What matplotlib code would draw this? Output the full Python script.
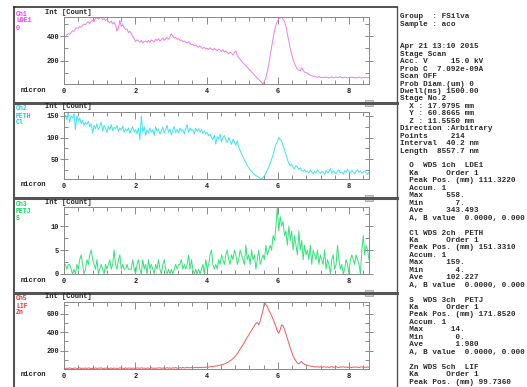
import matplotlib
matplotlib.use("Agg")
import matplotlib.pyplot as plt
from matplotlib.lines import Line2D
from matplotlib.patches import Rectangle
from matplotlib.ticker import MultipleLocator, FixedLocator
import numpy as np

plt.rcParams['font.family'] = ['Liberation Mono', 'DejaVu Sans Mono']

# scan setup (from the instrument header)
points = 214
length_um = 8.5577

# channel info
ch_names = ["Ch1", "Ch2", "Ch3", "Ch5"]
crystals = ["LDE1", "PETH", "PETJ", "LIF"]
elements = ["O", "Cl", "S", "Zn"]
wds_ch = ["1ch", "2ch", "3ch", "5ch"]
peak_pos = ["111.3220", "151.3310", "171.8520", "99.7360"]
max_txt = ["558.", "159.", "14."]
min_txt = ["7.", "4.", "0."]
ave_txt = ["343.493", "102.227", "1.980"]

# line scan counts
o_counts = [400, 395, 410, 420, 415, 430, 445, 440, 460, 470,
            465, 480, 475, 490, 500, 495, 510, 520, 505, 525,
            530, 520, 545, 555, 540, 548, 558, 535, 545, 530,
            540, 520, 510, 525, 500, 515, 495, 440, 470, 530,
            480, 495, 470, 455, 460, 430, 440, 420, 400, 380,
            355, 370, 360, 350, 365, 345, 355, 360, 350, 365,
            350, 370, 360, 355, 375, 365, 380, 360, 370, 385,
            365, 380, 390, 375, 395, 420, 400, 385, 390, 375,
            380, 365, 370, 355, 360, 350, 345, 355, 340, 330,
            335, 320, 330, 315, 310, 320, 305, 300, 310, 295,
            300, 290, 305, 295, 285, 300, 290, 280, 295, 285,
            275, 290, 270, 280, 265, 255, 270, 260, 245, 265,
            280, 240, 225, 210, 195, 180, 170, 155, 145, 130,
            120, 105, 95, 80, 70, 55, 45, 30, 20, 7,
            30, 60, 110, 170, 240, 310, 380, 440, 490, 520,
            545, 550, 558, 540, 520, 480, 420, 360, 300, 250,
            210, 175, 150, 130, 120, 115, 140, 120, 105, 100,
            95, 85, 80, 75, 70, 72, 65, 62, 68, 60,
            62, 58, 65, 60, 63, 57, 62, 66, 58, 61,
            64, 59, 62, 66, 60, 58, 63, 61, 57, 62,
            60, 65, 58, 62, 56, 60, 64, 59, 55, 62,
            58, 63, 57, 60]

cl_counts = [148, 152, 140, 159, 135, 150, 145, 155, 118, 150,
             138, 145, 132, 140, 128, 135, 130, 138, 125, 132,
             110, 128, 120, 132, 118, 125, 135, 115, 128, 122,
             112, 126, 118, 130, 116, 124, 120, 128, 114, 122,
             118, 126, 112, 120, 115, 122, 110, 118, 125, 112,
             118, 108, 122, 95, 150, 112, 125, 105, 118, 110,
             122, 112, 118, 105, 125, 114, 120, 108, 116, 124,
             110, 118, 128, 112, 120, 106, 118, 125, 112, 119,
             110, 122, 115, 118, 108, 120, 130, 112, 122, 116,
             118, 108, 122, 114, 120, 112, 118, 110, 115, 108,
             112, 104, 108, 100, 95, 105, 85, 102, 96, 108,
             90, 100, 105, 95, 88, 100, 92, 84, 96, 90,
             82, 92, 78, 70, 62, 55, 48, 42, 35, 30,
             25, 22, 18, 15, 12, 10, 8, 6, 4, 8,
             12, 18, 25, 32, 40, 50, 60, 72, 85, 90,
             100, 95, 92, 80, 72, 60, 50, 40, 35, 38,
             30, 28, 35, 32, 26, 30, 24, 22, 26, 20,
             22, 18, 24, 20, 16, 22, 18, 25, 20, 17,
             22, 19, 15, 24, 18, 21, 28, 17, 23, 19,
             16, 22, 25, 18, 20, 15, 23, 19, 26, 21,
             18, 24, 20, 16, 22, 25, 19, 23, 17, 20,
             22, 18, 15, 20]

s_counts = [2, 2, 1, 2, 2, 1, 0, 1, 0, 2,
            1, 3, 4, 2, 0, 1, 3, 2, 4, 5,
            3, 2, 1, 3, 0, 1, 2, 1, 0, 2,
            1, 2, 3, 1, 2, 5, 2, 1, 3, 4,
            1, 2, 1, 1, 2, 1, 1, 1, 3, 1,
            0, 2, 3, 1, 0, 3, 1, 2, 0, 3,
            1, 2, 1, 0, 2, 1, 3, 1, 0, 2,
            3, 1, 0, 1, 0, 1, 0, 1, 2, 1,
            2, 2, 3, 1, 2, 1, 2, 4, 1, 3,
            1, 0, 1, 0, 1, 0, 1, 2, 0, 3,
            1, 2, 4, 5, 2, 1, 2, 1, 3, 2,
            4, 3, 2, 4, 5, 3, 2, 4, 3, 5,
            4, 2, 3, 5, 4, 3, 2, 6, 3, 4,
            2, 5, 3, 4, 1, 3, 5, 2, 3, 4,
            3, 6, 4, 5, 6, 5, 8, 7, 10, 14,
            9, 12, 10, 11, 8, 9, 6, 10, 7, 9,
            5, 8, 6, 4, 9, 5, 7, 3, 6, 4,
            5, 3, 6, 2, 5, 4, 3, 5, 2, 4,
            3, 2, 5, 1, 3, 2, 0, 3, 4, 1,
            2, 6, 3, 1, 2, 0, 1, 3, 2, 0,
            3, 4, 3, 2, 4, 3, 2, 0, 5, 8,
            4, 6, 5, 3]

zn_counts = [8, 5, 10, 6, 12, 7, 4, 9, 11, 6,
             8, 13, 5, 9, 7, 10, 6, 12, 8, 5,
             9, 7, 11, 6, 10, 8, 13, 5, 9, 7,
             12, 6, 8, 10, 5, 11, 7, 9, 6, 13,
             8, 10, 5, 12, 7, 9, 11, 6, 10, 8,
             6, 12, 9, 7, 14, 8, 10, 6, 11, 9,
             7, 13, 8, 10, 6, 12, 9, 14, 7, 11,
             10, 8, 15, 9, 12, 7, 13, 10, 16, 9,
             12, 14, 10, 17, 11, 13, 18, 12, 15, 14,
             16, 13, 19, 15, 14, 18, 16, 20, 17, 19,
             22, 20, 25, 28, 24, 30, 35, 32, 38, 42,
             45, 50, 55, 62, 70, 78, 88, 100, 112, 128,
             145, 165, 190, 215, 240, 265, 290, 320, 345, 370,
             395, 420, 445, 470, 495, 505, 480, 520, 580, 640,
             728, 700, 680, 640, 610, 580, 540, 500, 460, 410,
             390, 430, 480, 470, 430, 380, 330, 280, 230, 185,
             140, 110, 85, 65, 55, 75, 80, 60, 50, 45,
             40, 35, 32, 28, 30, 25, 22, 26, 20, 24,
             18, 22, 25, 19, 23, 17, 21, 26, 18, 22,
             24, 19, 16, 23, 20, 25, 18, 22, 17, 21,
             20, 15, 22, 18, 24, 19, 16, 21, 23, 18,
             20, 17, 22, 19]

series = [o_counts, cl_counts, s_counts, zn_counts]
ylims = [(7, 558), (4, 159), (0, 14), (0, 728)]
yticks = [[200, 400], [50, 100, 150], [0, 5, 10], [200, 400, 600]]
yminor = [100, 25, 2.5, 100]
line_colors = ["#f07ce6", "#3fe3f0", "#33e27a", "#f05a5a"]
label_colors = ["#ff33ff", "#00d8e8", "#00dd55", "#ff3030"]

W, H = 527, 387
fig = plt.figure(figsize=(W / 100, H / 100), dpi=100)
fig.patch.set_facecolor("white")


def fx(p):
    return p / W


def fy(p):
    return 1 - p / H


# window frame
fig.add_artist(Line2D([fx(14), fx(14)], [fy(7), fy(387)], color="#555555", lw=1.5))
fig.add_artist(Line2D([fx(397), fx(397)], [fy(7), fy(387)], color="#555555", lw=1.0))
fig.add_artist(Line2D([fx(14), fx(397)], [fy(7), fy(7)], color="#333333", lw=1.2))
for sy in [103, 198, 293]:
    fig.add_artist(Line2D([fx(14), fx(397)], [fy(sy), fy(sy)], color="#555555", lw=2.2))
    fig.add_artist(Rectangle((fx(365), fy(sy + 3)), 8 / W, 6 / H, transform=fig.transFigure,
                             facecolor="#d0d0d0", edgecolor="#999999", lw=0.5))

for k in range(4):
    top = 17 + 95 * k
    vals = series[k]
    x = np.linspace(0, length_um, len(vals))
    ax = fig.add_axes([fx(64), fy(top + 67), 305 / W, 67 / H])
    ax.plot(x, vals, color=line_colors[k], lw=0.7)
    ax.set_xlim(0, length_um)
    ax.set_ylim(*ylims[k])
    ax.xaxis.set_major_locator(MultipleLocator(2))
    ax.xaxis.set_minor_locator(MultipleLocator(0.4))
    ax.yaxis.set_major_locator(FixedLocator(yticks[k]))
    ax.yaxis.set_minor_locator(MultipleLocator(yminor[k]))
    ax.tick_params(axis="x", which="both", direction="in", top=True, bottom=True,
                   color="#777777", labelcolor="#222222", labelsize=5, pad=3, width=0.6)
    ax.tick_params(axis="x", which="major", length=5)
    ax.tick_params(axis="x", which="minor", length=3)
    ax.tick_params(axis="y", which="both", left=True, right=True,
                   color="#777777", labelcolor="#222222", labelsize=5, pad=0.5, width=0.6)
    ax.tick_params(axis="y", which="major", direction="inout", length=6)
    ax.tick_params(axis="y", which="minor", direction="in", length=3)
    for sp in ax.spines.values():
        sp.set_color("#888888")
        sp.set_linewidth(0.7)
    for lab in ax.get_xticklabels() + ax.get_yticklabels():
        lab.set_fontweight("bold")

    fig.text(fx(45), fy(top - 5), "Int [Count]", fontsize=5, fontweight="bold",
             color="#222222", va="center", ha="left")
    fig.text(fx(34), fy(top + 73), "micron", fontsize=5, fontweight="bold",
             color="#222222", va="center", ha="center")
    for j, s in enumerate([ch_names[k], crystals[k], elements[k]]):
        fig.text(fx(16), fy(top - 3 + 7 * j), s, fontsize=4.7, fontweight="bold",
                 color=label_colors[k], va="center", ha="left")

# header text on the right
info = ["Group  : FSilva",
        "Sample : aco",
        "",
        "",
        "Apr 21 13:10 2015",
        "Stage Scan",
        "Acc. V     15.0 kV",
        "Prob C  7.092e-09A",
        "Scan OFF",
        "Prob Diam.(um) 0",
        "Dwell(ms) 1500.00",
        "Stage No.2",
        "  X : 17.9795 mm",
        "  Y : 60.8665 mm",
        "  Z : 11.5550 mm",
        "Direction :Arbitrary",
        "Points     214",
        "Interval  40.2 nm",
        "Length  8557.7 nm",
        ""]
for k in range(4):
    info.append("  %-2s WDS %s  %s" % (elements[k], wds_ch[k], crystals[k]))
    info.append("  Ka      Order 1")
    info.append("  Peak Pos. (mm) " + peak_pos[k])
    if k < 3:
        whole, frac = ave_txt[k].split(".")
        info.append("  Accum. 1")
        info.append("  Max  %7s" % max_txt[k])
        info.append("  Min  %7s" % min_txt[k])
        info.append("  Ave  %6s.%s" % (whole, frac))
        # the window cuts this line at its right edge
        info.append("  A, B value  0.0000, 0.000")
        info.append("")

for i, line in enumerate(info):
    if line:
        fig.text(fx(400), fy(17 + 7.45 * i), line, fontsize=5.5, fontweight="bold",
                 color="#2a2a2a", va="center", ha="left")

fig.savefig("out.png", dpi=100)
